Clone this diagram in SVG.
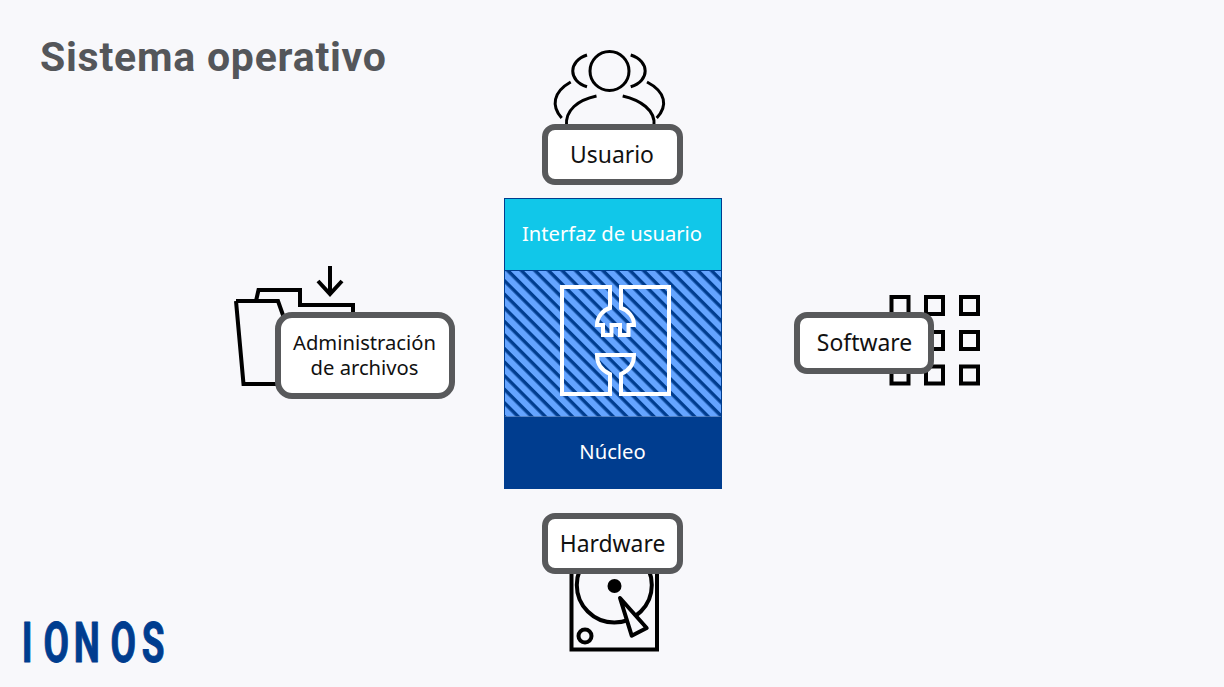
<svg xmlns="http://www.w3.org/2000/svg" width="1224" height="687" viewBox="0 0 1224 687">
<style>
.lbl{font-family:"Noto Sans","Open Sans","DejaVu Sans",sans-serif;font-size:22.9px;fill:#111;text-anchor:middle}
.lbl2{font-family:"Noto Sans","Open Sans","DejaVu Sans",sans-serif;font-size:20.2px;fill:#111;text-anchor:middle}
.in{font-family:"Noto Sans","Open Sans","DejaVu Sans",sans-serif;font-size:20.2px;fill:#fff;text-anchor:middle}
.box{fill:#fff;stroke:#58595b;stroke-width:6}
.ic{fill:none;stroke:#000;stroke-width:4}
.ic3{fill:none;stroke:#000;stroke-width:3}
</style>
<defs>
<pattern id="hatch" width="9.600" height="9.600" patternUnits="userSpaceOnUse" patternTransform="rotate(45 508 270)">
<rect width="9.600" height="9.600" fill="#64a4ff"/>
<rect y="0" width="9.600" height="3.400" fill="#003d8f"/>
</pattern>
</defs>
<rect width="1224" height="687" fill="#f8f8fb"/>
<text id="title" x="40" y="71" font-family="Roboto,'Noto Sans',sans-serif" font-weight="700" font-size="41" fill="#54565a" textLength="346" lengthAdjust="spacing">Sistema operativo</text>
<g id="logo"><text transform="translate(24 661.500) scale(.66 1)" x="-3.600 29.600 75.200 131.100 178.600" y="0" font-family="Roboto,'Liberation Sans',sans-serif" font-weight="700" font-size="56" fill="#003d8f" stroke="#003d8f" stroke-width="1" stroke-linejoin="round">IONOS</text></g>
<g id="connectors"/>
<g id="core">
<rect x="504.500" y="198.500" width="217" height="72" fill="#11c7e9"/>
<rect x="504.500" y="270.500" width="217" height="146" fill="url(#hatch)"/>
<rect x="504.500" y="416.500" width="217" height="72" fill="#003d8f"/>
<rect x="504.500" y="198.500" width="217" height="290" fill="none" stroke="#003d8f"/>
<line x1="504.500" y1="270.500" x2="721.500" y2="270.500" stroke="#003d8f"/>
<text class="in" x="612" y="241">Interfaz de usuario</text>
<text class="in" x="612.500" y="459">Núcleo</text>
<path fill="none" stroke="#fff" stroke-width="4" d="M610 308V287H562V394H610V374C603 371 597 365 597 355H634C634 365 628 371 621 374V394H669V287H621V308C628 310 634 317 634 325H628.500V335H620V325H611.500V335H603V325H597C597 317 603 310 610 308Z"/>
</g>
<g id="usuario">
<circle class="ic3" cx="609.500" cy="71" r="19.500"/>
<path class="ic3" d="M566.500 126C565 110 578 100 596.500 96M654 126C656 110 640 100 622.700 96M587 55C568 61 568 81 587 86.700M630.700 55C650 61 650 81 630.700 86.700M570.700 82C553 92 551 106 561.700 118M647 82C666 92 668 106 656.700 118"/>
<rect class="box" x="545" y="127" width="135" height="55" rx="10"/>
<text class="lbl" x="612" y="162.500">Usuario</text>
</g>
<g id="archivos">
<path class="ic" d="M256 301L258.500 290H300V305H353V315M236 301H278L284 318M236 301L243.500 384H278"/>
<path class="ic" d="M330 266V294M318 281L330 294L342 281"/>
<rect class="box" x="278" y="315" width="174" height="81" rx="14"/>
<text class="lbl2" y="350"><tspan x="364.500">Administración</tspan><tspan x="364.500" dy="25">de archivos</tspan></text>
</g>
<g id="software">
<rect class="ic" x="891.500" y="297" width="17" height="17"/><rect class="ic" x="926" y="297" width="17" height="17"/><rect class="ic" x="961" y="297" width="17" height="17"/>
<rect class="ic" x="891.500" y="332" width="17" height="17"/><rect class="ic" x="926" y="332" width="17" height="17"/><rect class="ic" x="961" y="332" width="17" height="17"/>
<rect class="ic" x="891.500" y="366.500" width="17" height="17"/><rect class="ic" x="926" y="366.500" width="17" height="17"/><rect class="ic" x="961" y="366.500" width="17" height="17"/>
<rect class="box" x="797" y="315" width="134" height="56" rx="10"/>
<text class="lbl" x="864.500" y="350.500">Software</text>
</g>
<g id="hardware">
<path class="ic" d="M571.500 570V649.500H657V570"/>
<circle class="ic" cx="614.300" cy="585" r="37.500"/>
<circle cx="614.500" cy="586" r="7"/>
<circle class="ic" cx="585" cy="636" r="6.500"/>
<path d="M620 598L646.700 628L631.700 635.700Z" fill="#f8f8fb" stroke="#000" stroke-width="4" stroke-linejoin="round"/>
<rect class="box" x="545" y="516" width="135" height="55" rx="10"/>
<text class="lbl" x="612.500" y="551.500">Hardware</text>
</g>
</svg>
